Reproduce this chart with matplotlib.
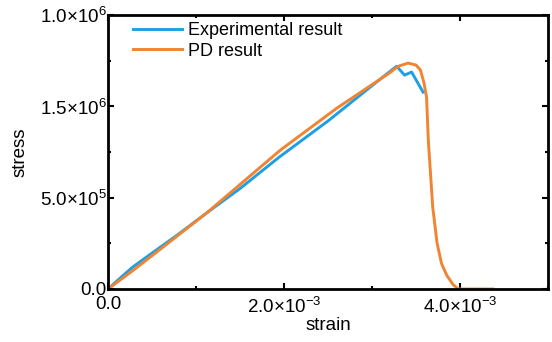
import matplotlib
matplotlib.use("Agg")
import matplotlib.pyplot as plt
from matplotlib.ticker import FixedLocator, FixedFormatter, MultipleLocator

plt.rcParams["font.family"] = ["Liberation Sans", "DejaVu Sans"]
plt.rcParams["mathtext.fontset"] = "custom"
plt.rcParams["mathtext.rm"] = "Liberation Sans"

# Experimental curve (strain, stress)
exp_strain = [0.0, 0.15e-3, 0.28e-3, 0.51e-3, 0.8e-3, 1.12e-3, 1.5e-3, 1.94e-3,
              2.5e-3, 3.07e-3, 3.28e-3, 3.37e-3, 3.45e-3, 3.58e-3]
exp_stress = [0.0, 0.065e6, 0.12e6, 0.20e6, 0.30e6, 0.416e6, 0.55e6, 0.72e6,
              0.92e6, 1.14e6, 1.22e6, 1.171e6, 1.188e6, 1.078e6]

# PD simulation curve
pd_strain = [0.0, 0.28e-3, 0.6e-3, 1.12e-3, 1.96e-3, 2.6e-3, 3.19e-3, 3.3e-3,
             3.41e-3, 3.50e-3, 3.55e-3, 3.59e-3, 3.62e-3, 3.64e-3, 3.69e-3,
             3.74e-3, 3.79e-3, 3.85e-3, 3.92e-3, 3.98e-3, 4.37e-3]
pd_stress = [0.0, 0.10e6, 0.22e6, 0.416e6, 0.761e6, 0.99e6, 1.18e6, 1.22e6,
             1.237e6, 1.226e6, 1.20e6, 1.13e6, 1.05e6, 0.815e6, 0.449e6,
             0.25e6, 0.14e6, 0.075e6, 0.025e6, 0.0, 0.0]

x_ticks = [0.0, 2e-3, 4e-3]
x_labels = ["0.0", r"2.0$\times$10$^{-3}$", r"4.0$\times$10$^{-3}$"]
y_ticks = [0.0, 5e5, 1e6, 1.5e6]
y_labels = ["0.0", r"5.0$\times$10$^{5}$", r"1.5$\times$10$^{6}$", r"1.0$\times$10$^{6}$"]

fig = plt.figure(figsize=(5.52, 3.42), dpi=100)
ax = fig.add_axes([0.1957, 0.155, 0.797, 0.801])

ax.plot(exp_strain, exp_stress, color="#1f9fe3", lw=2.1, label="Experimental result")
ax.plot(pd_strain, pd_stress, color="#f08432", lw=2.1, label="PD result")

ax.set_xlim(0, 5e-3)
ax.set_ylim(0, 1.5e6)
ax.xaxis.set_major_locator(FixedLocator(x_ticks))
ax.xaxis.set_major_formatter(FixedFormatter(x_labels))
ax.xaxis.set_minor_locator(MultipleLocator(1e-3))
ax.yaxis.set_major_locator(FixedLocator(y_ticks))
ax.yaxis.set_major_formatter(FixedFormatter(y_labels))
ax.yaxis.set_minor_locator(MultipleLocator(2.5e5))

ax.tick_params(which="both", direction="in", top=True, right=True, width=1.5)
ax.tick_params(which="major", length=4, labelsize=13.5)
ax.tick_params(axis="y", which="major", pad=1)
ax.tick_params(axis="x", which="major", pad=5)
ax.tick_params(which="minor", length=2)
for s in ax.spines.values():
    s.set_linewidth(2.0)

ax.set_xlabel("strain", fontsize=13.5, labelpad=0)
ax.set_ylabel("stress", fontsize=13.5, labelpad=8)

ax.legend(loc="upper left", bbox_to_anchor=(0.057, 0.975), frameon=False,
          fontsize=13, handlelength=2.7, handletextpad=0.35, labelspacing=0.2,
          borderpad=0, borderaxespad=0)

fig.savefig("out.png", dpi=100)
